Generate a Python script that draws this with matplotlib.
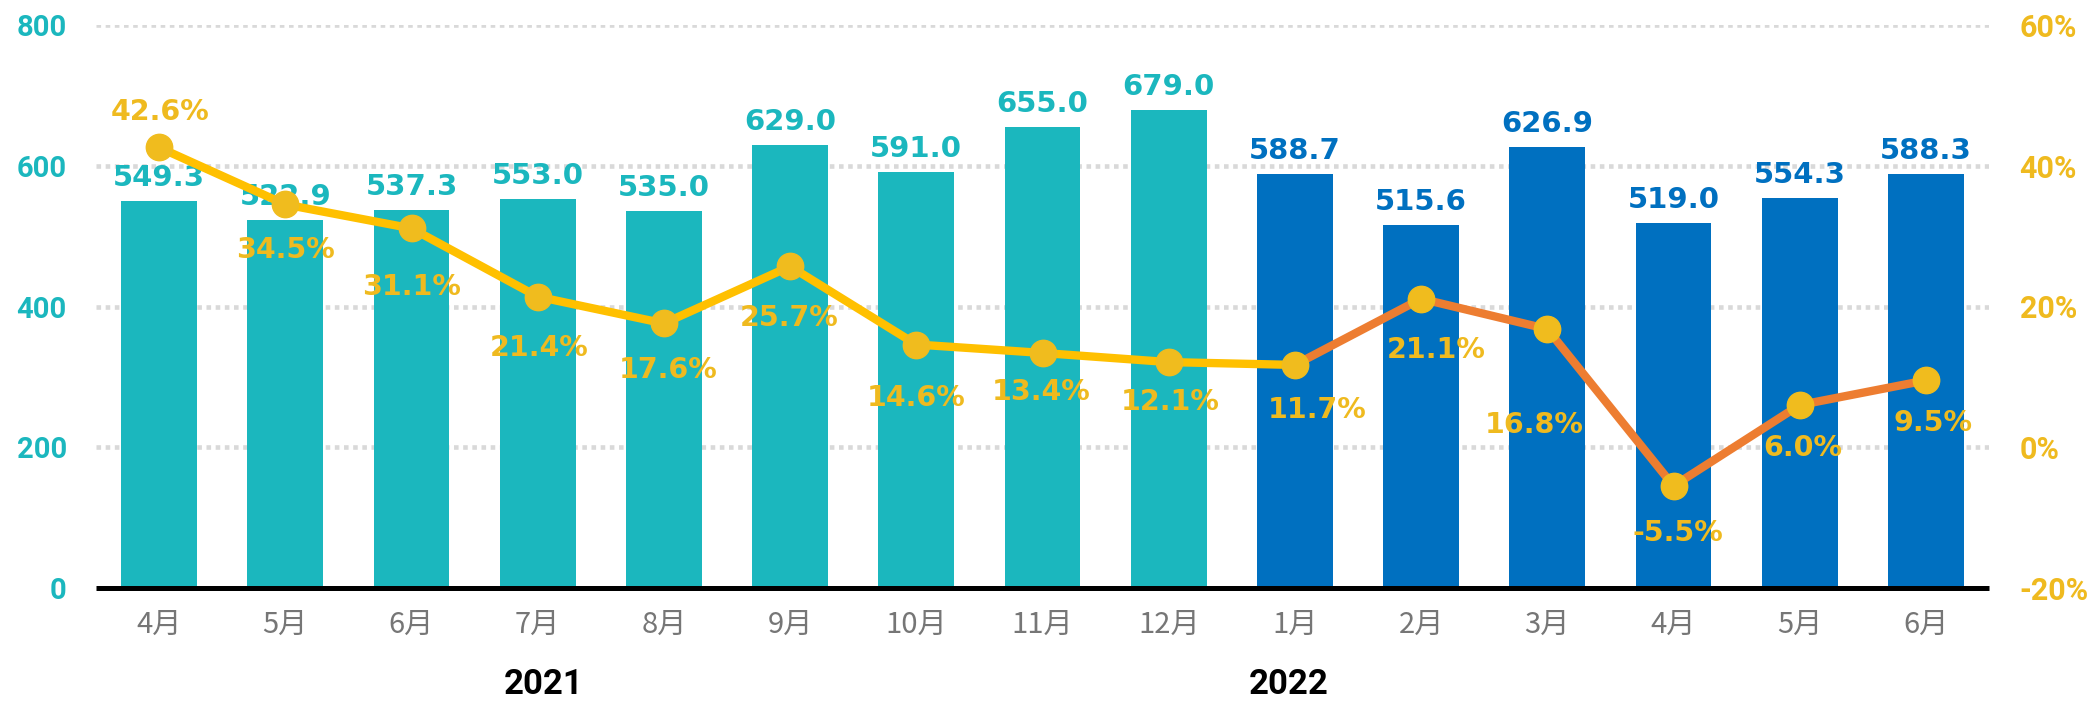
import matplotlib
matplotlib.use("Agg")
import matplotlib.pyplot as plt
import numpy as np

months = ['4月', '5月', '6月', '7月', '8月', '9月', '10月', '11月', '12月',
          '1月', '2月', '3月', '4月', '5月', '6月']
sales = [549.3, 522.9, 537.3, 553.0, 535.0, 629.0, 591.0, 655.0, 679.0,
         588.7, 515.6, 626.9, 519.0, 554.3, 588.3]
growth = [42.6, 34.5, 31.1, 21.4, 17.6, 25.7, 14.6, 13.4, 12.1,
          11.7, 21.1, 16.8, -5.5, 6.0, 9.5]
years = ['2021', '2022']
year_pos = [3.05, 8.95]
n_2021 = 9
left_ticks = [0, 200, 400, 600, 800]
right_ticks = [-20, 0, 20, 40, 60]

# label offsets (pixels) for growth labels: (dx, dy)
g_off = [(1, 35), (0, -46), (0, -59), (1, -51), (4, -47), (-1, -52), (0, -53),
         (-1, -39), (1, -40), (22, -45), (15, -51), (-13, -96), (4, -47),
         (3, -43), (7, -43)]

TEAL = '#1BB7BE'
BLUE = '#0070C0'
GOLD = '#EFBA1F'
LINE_Y = '#FFC000'
LINE_O = '#ED7D31'

fig = plt.figure(figsize=(20.96, 7.01), dpi=100)
ax = fig.add_axes([96/2096, 1-588/701, (1989-96)/2096, (588-25)/701])
ax2 = ax.twinx()

x = np.arange(len(months))
colors = [TEAL if i < n_2021 else BLUE for i in range(len(months))]

ax.set_xlim(-0.5, len(months)-0.5)
ax.set_ylim(0, 800)
ax2.set_ylim(-20, 60)

for yv in left_ticks[1:]:
    ax.axhline(yv, color='#D9D9D9', lw=3.3, linestyle=(0, (1.0, 1.0)), zorder=0,
               dash_capstyle='butt')

ax.bar(x, sales, width=0.6, color=colors, zorder=2)
for xi, v, c in zip(x, sales, colors):
    ax.annotate(f'{v:.1f}', (xi, v), xytext=(0, 9), textcoords='offset pixels',
                ha='center', va='bottom', color=c, fontsize=21,
                fontweight='bold', family='DejaVu Sans', zorder=5)

for s in ['top', 'right', 'left']:
    ax.spines[s].set_visible(False)
    ax2.spines[s].set_visible(False)
ax2.spines['bottom'].set_visible(False)
ax.spines['bottom'].set_linewidth(3.6)
ax.spines['bottom'].set_color('black')
ax.spines['bottom'].set_capstyle('butt')

ax.set_yticks(left_ticks)
ax.set_yticklabels([str(t) for t in left_ticks], color=TEAL, fontsize=21,
                   fontweight='bold', family='Roboto')
ax.tick_params(axis='y', length=0, pad=21)
ax.set_xticks(x)
ax.set_xticklabels(months, color='#767676', fontsize=21,
                   family=['Noto Sans CJK JP', 'DejaVu Sans'])
ax.tick_params(axis='x', length=0, pad=16)

ax2.set_yticks(right_ticks)
ax2.set_yticklabels([f'{t}%' for t in right_ticks], color=GOLD, fontsize=22,
                    fontweight='bold', family='Roboto')
ax2.tick_params(axis='y', length=0, pad=22)

# line: yellow for 2021 through first month of 2022, orange after
ax2.plot(x[:n_2021+1], growth[:n_2021+1], color=LINE_Y, lw=6, zorder=3,
         solid_capstyle='round')
ax2.plot(x[n_2021:], growth[n_2021:], color=LINE_O, lw=6, zorder=3,
         solid_capstyle='round')
ax2.plot(x, growth, linestyle='none', marker='o', markersize=19,
         color='#F0BC1E', zorder=4)
for xi, g, (dx, dy) in zip(x, growth, g_off):
    ax2.annotate(f'{g:.1f}%', (xi, g), xytext=(dx, dy), textcoords='offset pixels',
                 ha='center', va='center', color=GOLD, fontsize=20.5,
                 fontweight='bold', family='DejaVu Sans', zorder=6)

for yl, xp in zip(years, year_pos):
    ax.text(xp, -0.172, yl, transform=ax.get_xaxis_transform(), ha='center',
            va='center', fontsize=25, fontweight='bold', family='Roboto',
            color='black')

fig.savefig('out.png', dpi=100)
